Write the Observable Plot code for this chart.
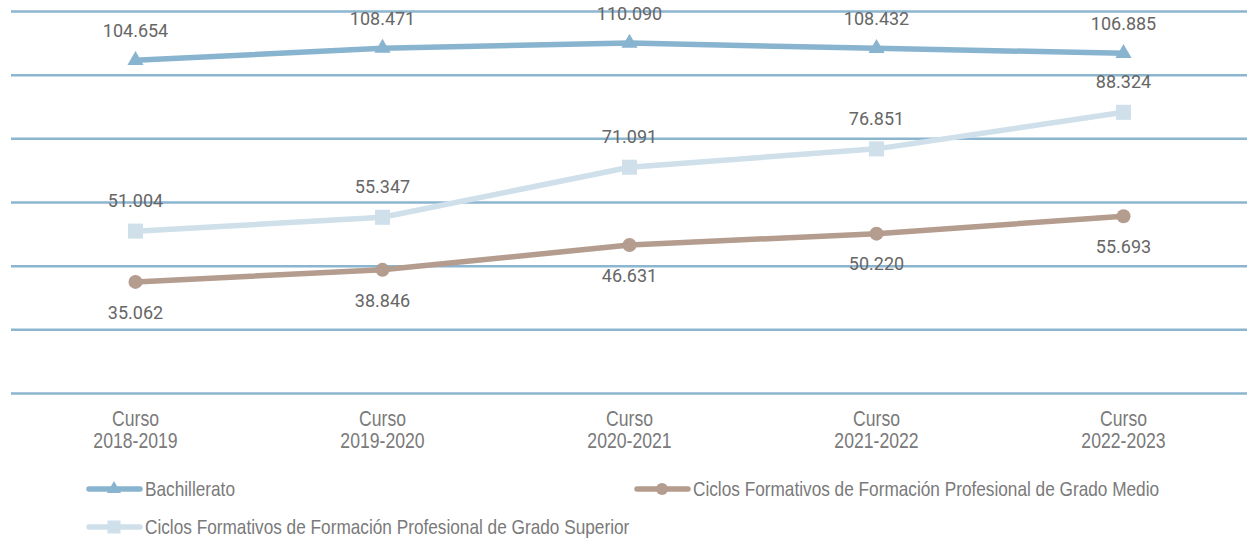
<!DOCTYPE html>
<html>
<head>
<meta charset="utf-8">
<script src="https://cdn.jsdelivr.net/npm/d3@7"></script>
<script src="https://cdn.jsdelivr.net/npm/@observablehq/plot@0.6"></script>
<style>
  html, body { margin: 0; padding: 0; background: #fff; }
  #wrap { position: relative; width: 1247px; height: 539px; overflow: hidden; }
  .leg { position: absolute; display: flex; align-items: center; height: 24px; white-space: nowrap;
         font-family: "Liberation Sans", Arial, sans-serif; font-size: 21px; color: #7a7a7a; }
  .leg svg { display: block; }
  .leg span { display: inline-block; transform: scaleX(0.82); transform-origin: 0 50%; margin-left: 2px; }
</style>
</head>
<body>
<div id="wrap"></div>
<script>
const categories = ["Curso 2018-2019", "Curso 2019-2020", "Curso 2020-2021", "Curso 2021-2022", "Curso 2022-2023"];
const seriesNames = [
  "Bachillerato",
  "Ciclos Formativos de Formación Profesional de Grado Medio",
  "Ciclos Formativos de Formación Profesional de Grado Superior"
];
const bachillerato = [104654, 108471, 110090, 108432, 106885];
const gradoMedio = [35062, 38846, 46631, 50220, 55693];
const gradoSuperior = [51004, 55347, 71091, 76851, 88324];
const yTicks = [0, 20000, 40000, 60000, 80000, 100000, 120000];

const colors = ["#89b4cf", "#b49c8e", "#cfe0eb"];
const symbols = ["triangle", "circle", "square"];
const radii = [6, 7, 8.5];
const labelDy = [-29, 31, -30];

const seriesValues = [bachillerato, gradoMedio, gradoSuperior];
const data = [];
seriesNames.forEach((s, i) => seriesValues[i].forEach((v, j) => data.push({series: s, idx: i, cat: categories[j], value: v})));

const loc = d3.formatLocale({decimal: ",", thousands: ".", grouping: [3], currency: ["", "€"]});
const fmt = loc.format(",d");

const marks = [
  Plot.ruleY(yTicks, {stroke: "#8cb5d0", strokeWidth: 2.5}),
  Plot.axisX({tickSize: 0, tickPadding: 17, fontSize: 21.5, lineHeight: 1.03, label: null,
    fontFamily: "'Liberation Sans', Arial, sans-serif", fill: "#7a7a7a",
    tickFormat: d => d.replace(" ", "\n")})
];
seriesNames.forEach((s, i) => {
  const d = data.filter(r => r.idx === i);
  marks.push(Plot.line(d, {x: "cat", y: "value", stroke: colors[i], strokeWidth: 5.5}));
  marks.push(Plot.dot(d, {x: "cat", y: "value", fill: colors[i], symbol: () => symbols[i], r: radii[i], stroke: "none"}));
  marks.push(Plot.text(d, {x: "cat", y: "value", text: r => fmt(r.value), dy: labelDy[i],
    fontSize: 18, fontFamily: "Roboto, sans-serif", fill: "#666"}));
});

const chart = Plot.plot({
  width: 1247,
  height: 460,
  marginLeft: 11,
  marginRight: 0,
  marginTop: 11,
  marginBottom: 67,
  x: {type: "point", domain: categories, padding: 0.5, label: null},
  y: {domain: [0, 120000], axis: null},
  symbol: {domain: symbols, range: symbols},
  style: {background: "#fff", overflow: "visible"},
  marks
});
// condensed look for axis labels
d3.select(chart).selectAll('g[aria-label="x-axis tick label"] text').each(function() {
  const t = this.getAttribute("transform") || "";
  this.setAttribute("transform", t + " scale(0.82,1)");
});
const wrap = document.getElementById("wrap");
wrap.appendChild(chart);

const legendPos = [[85, 477], [633, 477], [85, 515]];
seriesNames.forEach((s, i) => {
  const div = document.createElement("div");
  div.className = "leg";
  div.style.left = legendPos[i][0] + "px";
  div.style.top = legendPos[i][1] + "px";
  const sym = d3.symbol(d3["symbol" + symbols[i][0].toUpperCase() + symbols[i].slice(1)], Math.PI * radii[i] * radii[i] * 0.75)();
  div.innerHTML = `<svg width="58" height="24"><line x1="4" x2="55" y1="12" y2="12" stroke="${colors[i]}" stroke-width="5.5" stroke-linecap="round"/><path d="${sym}" transform="translate(29,12)" fill="${colors[i]}"/></svg><span>${s}</span>`;
  wrap.appendChild(div);
});
</script>
</body>
</html>
